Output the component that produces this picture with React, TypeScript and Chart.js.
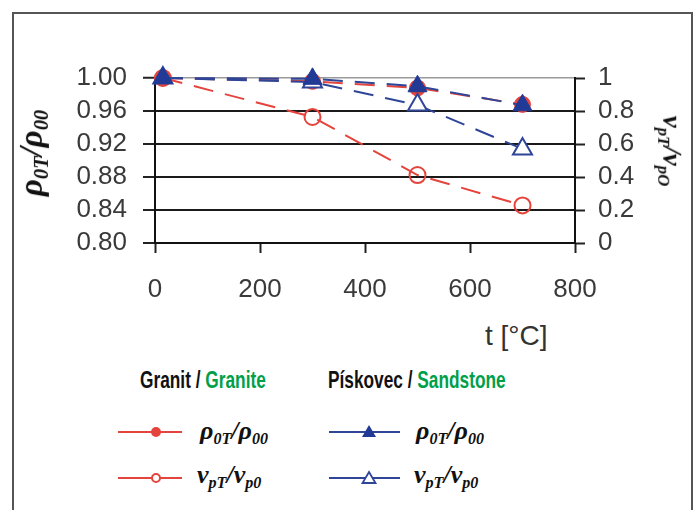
import React, { useEffect, useRef } from "react";
import { Chart, registerables } from "chart.js";

Chart.register(...registerables);

// ---- data ----
const temperatures = [15, 300, 500, 700];
const granitDensity = [1.0, 0.996, 0.988, 0.968];
const granitVelocity = [1.0, 0.764, 0.412, 0.228];
const sandstoneDensity = [1.0, 0.999, 0.99, 0.967];
const sandstoneVelocity = [1.0, 0.976, 0.836, 0.57];
const xTickValues = [0, 200, 400, 600, 800];
const leftTickValues = [0.8, 0.84, 0.88, 0.92, 0.96, 1.0];
const rightTickValues = [0, 0.2, 0.4, 0.6, 0.8, 1];

const RED = "#e5443d";
const BLUE = "#2f4597";
const BLUE_FILL = "#213a95";
const TICK_FONT = '"Liberation Sans", Arial, sans-serif';

const toPoints = (ys: number[]) => temperatures.map((x, i) => ({ x, y: ys[i] }));

function ChartCanvas() {
  const ref = useRef<HTMLCanvasElement | null>(null);
  useEffect(() => {
    if (!ref.current) return;
    const dash = [20, 12];
    const chart = new Chart(ref.current, {
      type: "line",
      data: {
        datasets: [
          {
            label: "Pískovec ρ0T/ρ00",
            data: toPoints(sandstoneDensity),
            yAxisID: "y",
            borderColor: BLUE,
            borderWidth: 2,
            borderDash: dash,
            pointStyle: "triangle",
            pointRadius: 11,
            pointBackgroundColor: BLUE_FILL,
            pointBorderColor: BLUE_FILL,
            pointBorderWidth: 1,
            clip: false,
          },
          {
            label: "Pískovec vpT/vp0",
            data: toPoints(sandstoneVelocity),
            yAxisID: "y1",
            borderColor: BLUE,
            borderWidth: 2,
            borderDash: dash,
            pointStyle: "triangle",
            pointRadius: 11,
            pointBackgroundColor: "#ffffff",
            pointBorderColor: BLUE,
            pointBorderWidth: 2,
            clip: false,
          },
          {
            label: "Granit ρ0T/ρ00",
            data: toPoints(granitDensity),
            yAxisID: "y",
            borderColor: RED,
            borderWidth: 2,
            borderDash: dash,
            pointStyle: "circle",
            pointRadius: 8,
            pointBackgroundColor: RED,
            pointBorderColor: RED,
            pointBorderWidth: 1,
            clip: false,
          },
          {
            label: "Granit vpT/vp0",
            data: toPoints(granitVelocity),
            yAxisID: "y1",
            borderColor: RED,
            borderWidth: 2,
            borderDash: dash,
            pointStyle: "circle",
            pointRadius: 8,
            pointBackgroundColor: "rgba(255,255,255,0)",
            pointBorderColor: RED,
            pointBorderWidth: 2,
            clip: false,
          },
        ],
      },
      options: {
        animation: false,
        responsive: false,
        maintainAspectRatio: false,
        layout: { padding: { top: 78, left: 0, right: 0, bottom: 0 } },
        plugins: { legend: { display: false }, tooltip: { enabled: false } },
        scales: {
          x: {
            type: "linear",
            min: 0,
            max: 800,
            afterBuildTicks: (s: any) => {
              s.ticks = xTickValues.map((v) => ({ value: v }));
            },
            afterFit: (s: any) => {
              s.height = 77;
            },
            ticks: {
              color: "#3a3a3a",
              font: { family: TICK_FONT, size: 26 },
              padding: 21,
              maxRotation: 0,
              autoSkip: false,
            },
            grid: {
              drawOnChartArea: false,
              drawTicks: true,
              tickLength: 10,
              tickWidth: 2,
              tickColor: "#222",
              color: "#222",
            },
            border: { display: true, color: "#111", width: 2 },
          },
          y: {
            type: "linear",
            position: "left",
            min: 0.8,
            max: 1.0,
            afterBuildTicks: (s: any) => {
              s.ticks = leftTickValues.map((v) => ({ value: v }));
            },
            afterFit: (s: any) => {
              s.width = 155;
            },
            ticks: {
              color: "#3a3a3a",
              font: { family: TICK_FONT, size: 26 },
              padding: 16,
              autoSkip: false,
              callback: (v: any) => Number(v).toFixed(2),
            },
            grid: {
              drawTicks: true,
              tickLength: 12,
              tickWidth: 2,
              tickColor: "#222",
              lineWidth: (c: any) => (c.tick && Math.abs(c.tick.value - 1) < 1e-6 ? 1.5 : 2),
              color: (c: any) => (c.tick && Math.abs(c.tick.value - 1) < 1e-6 ? "#9a9a9a" : "#1a1a1a"),
            },
            border: { display: true, color: "#111", width: 2 },
          },
          y1: {
            type: "linear",
            position: "right",
            min: 0,
            max: 1,
            afterBuildTicks: (s: any) => {
              s.ticks = rightTickValues.map((v) => ({ value: v }));
            },
            afterFit: (s: any) => {
              s.width = 120;
            },
            ticks: {
              color: "#3a3a3a",
              font: { family: TICK_FONT, size: 26 },
              padding: 13,
              autoSkip: false,
              callback: (v: any) => String(parseFloat(Number(v).toFixed(1))),
            },
            grid: {
              drawOnChartArea: false,
              drawTicks: true,
              tickLength: 10,
              tickWidth: 2,
              tickColor: "#222",
            },
            border: { display: true, color: "#111", width: 2 },
          },
        },
      },
    } as any);
    return () => chart.destroy();
  }, []);
  return (
    <canvas
      ref={ref}
      width={695}
      height={320}
      style={{ position: "absolute", left: 0, top: 0, width: 695, height: 320, display: "block" }}
    />
  );
}

const serifBI: React.CSSProperties = {
  fontFamily: '"Liberation Serif", "DejaVu Serif", serif',
  fontWeight: "bold",
  fontStyle: "italic",
  whiteSpace: "nowrap",
  color: "#111",
  lineHeight: 1,
};

const subStyle: React.CSSProperties = { fontSize: "0.62em", verticalAlign: "-0.28em", lineHeight: 1 };

function Rho() {
  return (
    <>
      ρ<span style={subStyle}>0T</span>/ρ<span style={subStyle}>00</span>
    </>
  );
}
function Vel({ last }: { last: string }) {
  return (
    <>
      v<span style={subStyle}>pT</span>/v<span style={subStyle}>{"p" + last}</span>
    </>
  );
}

function LegendLine({ color, marker, width, at }: { color: string; marker: string; width: number; at: number }) {
  let m: React.ReactNode = null;
  if (marker === "dot") m = <circle cx={at} cy={10} r={5} fill={color} />;
  if (marker === "ring") m = <circle cx={at} cy={10} r={4} fill="#fff" stroke={color} strokeWidth={2} />;
  if (marker === "tri") m = <polygon points={`${at},3 ${at + 7},15 ${at - 7},15`} fill={BLUE_FILL} />;
  if (marker === "opentri")
    m = <polygon points={`${at},4 ${at + 6.5},15 ${at - 6.5},15`} fill="#fff" stroke={color} strokeWidth={1.8} />;
  return (
    <svg width={width} height={20} style={{ display: "block" }}>
      <line x1={0} y1={10} x2={width} y2={10} stroke={color} strokeWidth={2} />
      {m}
    </svg>
  );
}

const abs = (left: number, top: number): React.CSSProperties => ({ position: "absolute", left, top });

export default function App() {
  const boldSans: React.CSSProperties = {
    fontFamily: '"Liberation Sans", Arial, sans-serif',
    fontWeight: "bold",
    fontSize: 24,
    whiteSpace: "nowrap",
    lineHeight: 1,
    color: "#111",
    transform: "scaleX(0.72)",
    transformOrigin: "0 50%",
  };
  const green = "#00a04a";
  return (
    <div style={{ position: "absolute", left: 0, top: 0, width: 695, height: 510, overflow: "hidden", background: "#fff" }}>
      <div
        style={{
          position: "absolute",
          left: 12,
          top: 12,
          width: 681,
          height: 530,
          border: "2px solid #555",
          boxSizing: "border-box",
        }}
      />
      <ChartCanvas />
      {/* left axis title */}
      <div style={abs(33, 153)}>
        <div style={{ ...serifBI, fontSize: 33, transform: "translate(-50%, -50%) rotate(-90deg)", position: "absolute", left: 0, top: 0 }}>
          <Rho />
        </div>
      </div>
      {/* right axis title */}
      <div style={abs(670, 151)}>
        <div style={{ ...serifBI, fontSize: 27, transform: "translate(-50%, -50%) rotate(90deg)", position: "absolute", left: 0, top: 0 }}>
          <Vel last="O" />
        </div>
      </div>
      {/* x axis title */}
      <div
        style={{
          ...abs(485, 322),
          fontFamily: '"Liberation Sans", Arial, sans-serif',
          fontSize: 28,
          color: "#333",
          whiteSpace: "nowrap",
          lineHeight: 1,
        }}
      >
        t [°C]
      </div>
      {/* legend */}
      <div style={{ ...abs(140, 368), ...boldSans }}>
        Granit / <span style={{ color: green }}>Granite</span>
      </div>
      <div style={{ ...abs(328, 368), ...boldSans }}>
        Pískovec / <span style={{ color: green }}>Sandstone</span>
      </div>
      <div style={abs(118, 422)}>
        <LegendLine color={RED} marker="dot" width={64} at={38} />
      </div>
      <div style={abs(118, 468)}>
        <LegendLine color={RED} marker="ring" width={64} at={38} />
      </div>
      <div style={abs(329, 422)}>
        <LegendLine color={BLUE} marker="tri" width={71} at={40} />
      </div>
      <div style={abs(329, 468)}>
        <LegendLine color={BLUE} marker="opentri" width={71} at={40} />
      </div>
      <div style={{ ...abs(200, 418), ...serifBI, fontSize: 26 }}>
        <Rho />
      </div>
      <div style={{ ...abs(197, 462), ...serifBI, fontSize: 26 }}>
        <Vel last="0" />
      </div>
      <div style={{ ...abs(416, 418), ...serifBI, fontSize: 26 }}>
        <Rho />
      </div>
      <div style={{ ...abs(414, 462), ...serifBI, fontSize: 26 }}>
        <Vel last="0" />
      </div>
    </div>
  );
}
